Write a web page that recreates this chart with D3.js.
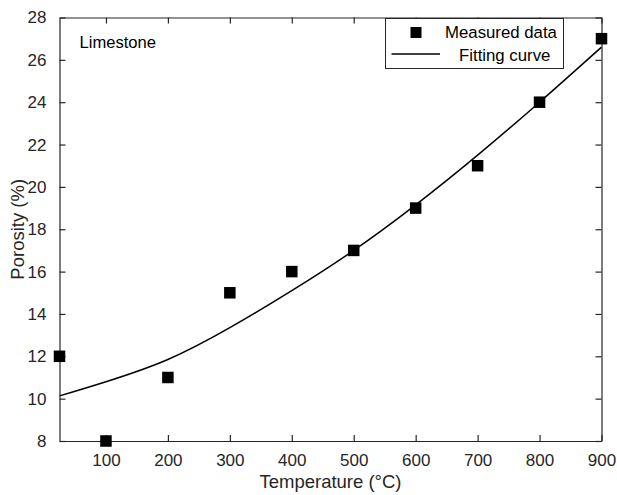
<!DOCTYPE html>
<html>
<head>
<meta charset="utf-8">
<script src="https://cdn.jsdelivr.net/npm/d3@7"></script>
<style>
  html, body { margin: 0; padding: 0; background: #fff; }
  svg { display: block; font-family: "Liberation Sans", Arial, sans-serif; }
</style>
</head>
<body>
<svg id="chart" width="617" height="495"></svg>
<script>
// Measured data
const temperatures = [25, 100, 200, 300, 400, 500, 600, 700, 800, 900];
const porosity = [12, 8, 11, 15, 16, 17, 19, 21, 24, 27];
// Fitting curve
const fitTemperatures = [25, 100, 200, 300, 400, 500, 600, 700, 800, 900];
const fitPorosity = [10.13, 10.8, 11.85, 13.35, 15.1, 17.0, 19.15, 21.5, 24.0, 26.6];
// Ticks
const xTicks = [100, 200, 300, 400, 500, 600, 700, 800, 900];
const yTicks = [8, 10, 12, 14, 16, 18, 20, 22, 24, 26, 28];
const xDomain = [25, 900];
const yDomain = [8, 28];

const svg = d3.select("#chart");
const m = { left: 59.5, right: 601.5, top: 17.5, bottom: 441 };
const x = d3.scaleLinear().domain(xDomain).range([m.left, m.right]);
const y = d3.scaleLinear().domain(yDomain).range([m.bottom, m.top]);
const axisColor = "#262626";
const tickLen = 6;

// Fitting curve
const line = d3.line().x((d, i) => x(fitTemperatures[i])).y(d => y(d)).curve(d3.curveNatural);
svg.append("path").datum(fitPorosity)
  .attr("d", line).attr("fill", "none").attr("stroke", "#000").attr("stroke-width", 1.5);

// Axes (ticks inward, box)
function styleAxis(g) {
  g.selectAll("path.domain").attr("stroke", axisColor).attr("stroke-width", 1.2);
  g.selectAll(".tick line").attr("stroke", axisColor).attr("stroke-width", 1.2);
  g.selectAll(".tick text").attr("fill", axisColor).style("font-size", "17px")
    .style("font-family", '"Liberation Sans", Arial, sans-serif');
}
const gx = svg.append("g").attr("transform", `translate(0,${m.bottom})`)
  .call(d3.axisBottom(x).tickValues(xTicks).tickSizeInner(-tickLen).tickSizeOuter(0).tickPadding(13));
styleAxis(gx);
const gxt = svg.append("g").attr("transform", `translate(0,${m.top})`)
  .call(d3.axisTop(x).tickValues(xTicks).tickSizeInner(-tickLen).tickSizeOuter(0).tickFormat(""));
styleAxis(gxt);
const gy = svg.append("g").attr("transform", `translate(${m.left},0)`)
  .call(d3.axisLeft(y).tickValues(yTicks).tickSizeInner(-tickLen).tickSizeOuter(0).tickPadding(13));
styleAxis(gy);
const gyr = svg.append("g").attr("transform", `translate(${m.right},0)`)
  .call(d3.axisRight(y).tickValues(yTicks).tickSizeInner(-tickLen).tickSizeOuter(0).tickFormat(""));
styleAxis(gyr);

// Measured points
const sz = 11.5;
svg.append("g").selectAll("rect").data(porosity).join("rect")
  .attr("x", (d, i) => x(temperatures[i]) - sz / 2)
  .attr("y", d => y(d) - sz / 2)
  .attr("width", sz).attr("height", sz).attr("fill", "#000");

// Axis titles
svg.append("text").attr("x", (m.left + m.right) / 2).attr("y", 488)
  .attr("text-anchor", "middle").attr("fill", axisColor).style("font-size", "18.5px")
  .text("Temperature (°C)");
svg.append("text").attr("transform", `translate(24,${(m.top + m.bottom) / 2}) rotate(-90)`)
  .attr("text-anchor", "middle").attr("fill", axisColor).style("font-size", "18.5px")
  .text("Porosity (%)");

// Annotation
svg.append("text").attr("x", 79.5).attr("y", 47.5).attr("fill", "#000")
  .style("font-size", "16.6px").text("Limestone");

// Legend
const lg = svg.append("g");
lg.append("rect").attr("x", 385.5).attr("y", 18.5).attr("width", 178).attr("height", 50)
  .attr("fill", "#fff").attr("stroke", axisColor).attr("stroke-width", 1);
lg.append("rect").attr("x", 416 - 5.5).attr("y", 32.5 - 5.5).attr("width", 11).attr("height", 11).attr("fill", "#000");
lg.append("line").attr("x1", 391.5).attr("x2", 440).attr("y1", 54).attr("y2", 54)
  .attr("stroke", "#000").attr("stroke-width", 1.5);
lg.append("text").attr("x", 445).attr("y", 37.8).style("font-size", "16.8px").attr("fill", "#000").text("Measured data");
lg.append("text").attr("x", 459).attr("y", 60.8).style("font-size", "16.8px").attr("fill", "#000").text("Fitting curve");
</script>
</body>
</html>
